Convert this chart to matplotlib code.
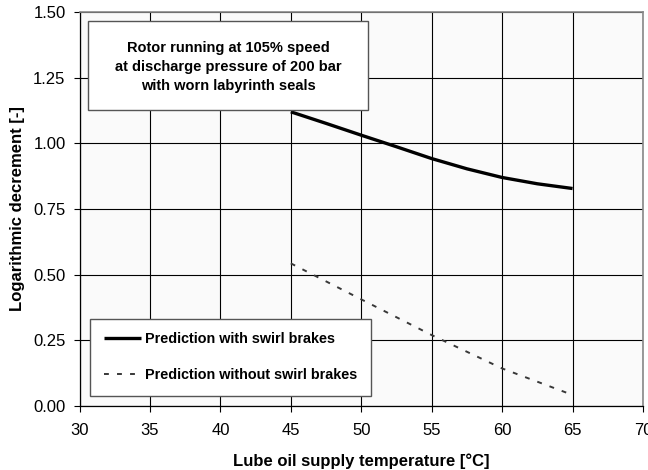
import matplotlib.pyplot as plt

# --- data ---
temps = [45, 47.5, 50, 52.5, 55, 57.5, 60, 62.5, 65]
with_brakes = [1.12, 1.076, 1.031, 0.987, 0.942, 0.903, 0.870, 0.846, 0.828]
temps_nb = [45, 50, 55, 60, 65]
without_brakes = [0.543, 0.406, 0.270, 0.143, 0.042]

x_ticks = [30, 35, 40, 45, 50, 55, 60, 65, 70]
y_ticks = [0.00, 0.25, 0.50, 0.75, 1.00, 1.25, 1.50]

plt.rcParams['font.family'] = ['Liberation Sans', 'DejaVu Sans']

fig = plt.figure(figsize=(6.48, 4.70), dpi=100)
ax = fig.add_axes([79.5 / 648, 64 / 470, 563.5 / 648, 394 / 470])
ax.set_facecolor('#fafafa')

ax.plot(temps, with_brakes, color='black', lw=2.4, solid_capstyle='butt',
        label='Prediction with swirl brakes', zorder=3)
ax.plot(temps_nb, without_brakes, color='#383838', lw=1.4, ls=(0, (2.5, 4.2)),
        label='Prediction without swirl brakes', zorder=3)

ax.set_xlim(30, 70)
ax.set_ylim(0, 1.5)
ax.set_xticks(x_ticks)
ax.set_yticks(y_ticks)
ax.set_yticklabels([f"{v:.2f}" for v in y_ticks])
ax.grid(True, color='black', lw=0.8)
ax.set_axisbelow(True)
ax.tick_params(direction='out', length=4, width=0.8, labelsize=12, color='black')
ax.tick_params(axis='x', pad=8)
ax.tick_params(axis='y', pad=6)

for s in ['left', 'bottom']:
    ax.spines[s].set_color('black')
    ax.spines[s].set_linewidth(0.9)
for s in ['top', 'right']:
    ax.spines[s].set_color('#888888')
    ax.spines[s].set_linewidth(1.2)

ax.set_xlabel('Lube oil supply temperature [°C]', fontsize=12, fontweight='bold', labelpad=11)
ax.set_ylabel('Logarithmic decrement [-]', fontsize=12, fontweight='bold', labelpad=6)

# annotation box
ax.add_patch(plt.Rectangle((30.6, 1.126), 19.9, 0.339, facecolor='white',
                           edgecolor='#555555', lw=1.0, zorder=4))
ax.text(40.55, 1.29, 'Rotor running at 105% speed\nat discharge pressure of 200 bar\nwith worn labyrinth seals',
        ha='center', va='center', fontsize=10.5, fontweight='bold', linespacing=1.45, zorder=5)

leg = ax.legend(loc='lower left', bbox_to_anchor=(0.0186, 0.026), borderaxespad=0,
                prop={'weight': 'bold', 'size': 10.4},
                handlelength=2.6, handletextpad=0.25, labelspacing=1.5, borderpad=0.95,
                fancybox=False, framealpha=1, edgecolor='#555555')
leg.get_frame().set_linewidth(1.0)
leg.set_zorder(5)

fig.savefig('out.png', dpi=100)
